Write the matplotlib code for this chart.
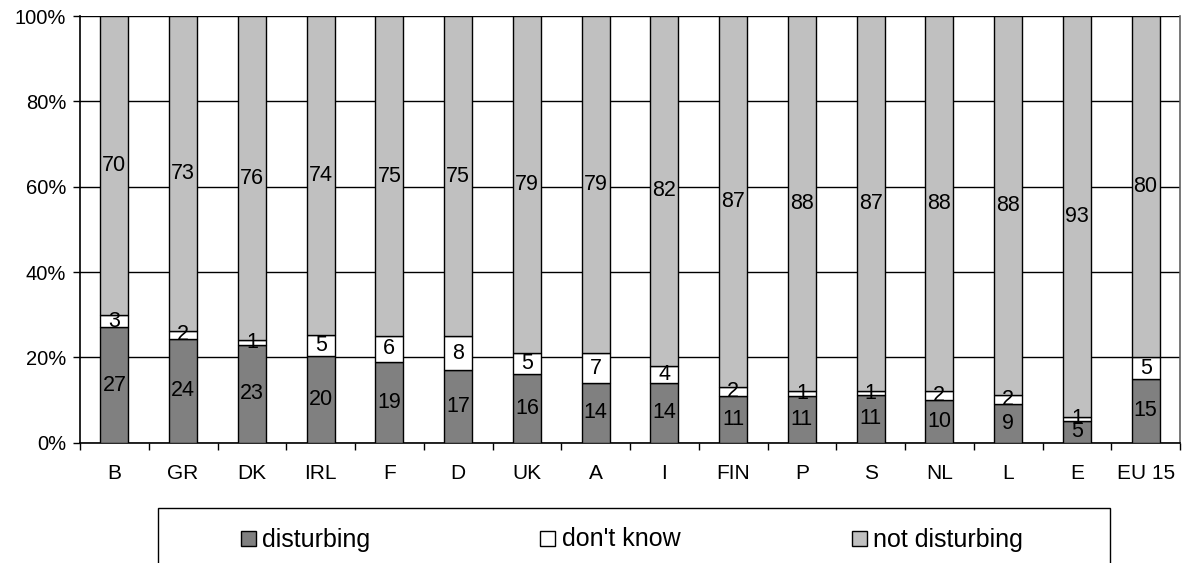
import matplotlib
matplotlib.use("Agg")
import matplotlib.pyplot as plt
from matplotlib.patches import Rectangle
import numpy as np

plt.rcParams['font.family'] = ['Liberation Sans', 'DejaVu Sans']

countries = ["B", "GR", "DK", "IRL", "F", "D", "UK", "A", "I", "FIN", "P", "S", "NL", "L", "E", "EU 15"]
disturbing = [27, 24, 23, 20, 19, 17, 16, 14, 14, 11, 11, 11, 10, 9, 5, 15]
dont_know = [3, 2, 1, 5, 6, 8, 5, 7, 4, 2, 1, 1, 2, 2, 1, 5]
not_disturbing = [70, 73, 76, 74, 75, 75, 79, 79, 82, 87, 88, 87, 88, 88, 93, 80]
yticks = [0, 20, 40, 60, 80, 100]

series_names = ["disturbing", "don't know", "not disturbing"]
series_values = [disturbing, dont_know, not_disturbing]
colors = ["#808080", "#FFFFFF", "#C0C0C0"]

W, H = 1183, 563
fig = plt.figure(figsize=(W / 100, H / 100), dpi=100)
ax = fig.add_axes([80 / W, (H - 442.7) / H, 1100 / W, 426.7 / H])

x = np.arange(len(countries))
totals = np.sum(np.array(series_values, dtype=float), axis=0)
bottom = np.zeros(len(countries))
for name, vals, col in zip(series_names, series_values, colors):
    v = np.array(vals, dtype=float)
    share = v / totals * 100
    bars = ax.bar(x, share, bottom=bottom, width=0.41, color=col,
                  edgecolor="black", linewidth=1.0, zorder=3, label=name)
    ax.bar_label(bars, labels=[str(s) for s in vals], label_type="center",
                 fontsize=15.5, color="black", zorder=4)
    bottom += share

ax.set_xlim(-0.5, len(countries) - 0.5)
ax.set_ylim(0, 100)
ax.set_yticks(yticks)
ax.set_yticklabels([f"{t}%" for t in yticks], fontsize=14.5)
ax.yaxis.grid(True, color="black", linewidth=1.0, zorder=0)
ax.set_axisbelow(True)

ax.set_xticks(x)
ax.set_xticklabels(countries, fontsize=15)
ax.set_xticks(np.arange(-0.5, len(countries), 1.0), minor=True)
ax.tick_params(axis="x", which="major", length=0, pad=15)
ax.tick_params(axis="x", which="minor", length=5, width=1, color="black", direction="out")
ax.tick_params(axis="y", length=5, width=1, direction="out", pad=5)

ax.spines["top"].set_visible(False)
ax.spines["right"].set_color("#606060")
ax.spines["right"].set_linewidth(1.2)
for s in ["left", "bottom"]:
    ax.spines[s].set_color("black")
    ax.spines[s].set_linewidth(1.2)

# legend box
fig.add_artist(Rectangle((157.5 / W, -0.2), (1110 - 157.5) / W, 0.2 + (H - 508) / H,
                         transform=fig.transFigure, facecolor="white",
                         edgecolor="black", linewidth=1.0))
leg_x = [240.7, 540, 851.7]
for lx, name, col in zip(leg_x, series_names, colors):
    fig.add_artist(Rectangle((lx / W, (H - 546) / H), 15.3 / W, 15.3 / H,
                             transform=fig.transFigure, facecolor=col,
                             edgecolor="black", linewidth=1.0))
    fig.text((lx + 21.5) / W, (H - 539.5) / H, name, fontsize=18, va="center", ha="left")

fig.savefig("out.png", dpi=100)
